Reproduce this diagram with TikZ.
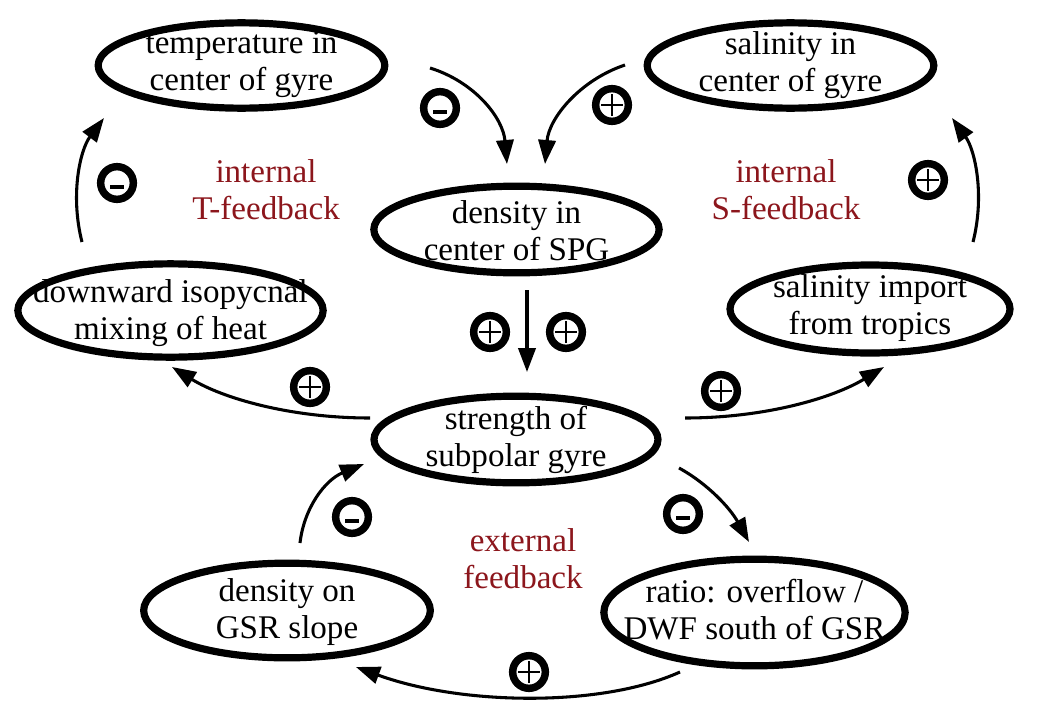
\documentclass[tikz,border=0pt]{standalone}
\usepackage{fontspec}
\setmainfont{Liberation Serif}
\usetikzlibrary{arrows.meta,shapes.geometric}
\definecolor{fbred}{RGB}{140,22,28}
\begin{document}
\begin{tikzpicture}[x=0.75pt,y=-0.75pt,
  oval/.style={draw,ellipse,line width=5.4pt,inner sep=0pt},
  txt/.style={align=center,inner sep=0pt,font=\fontsize{24.8}{27.75}\selectfont},
  fb/.style={txt,text=fbred},
  conn/.style={line width=2.3pt,-{Triangle[length=18pt,width=13pt]}},
  sgn/.style={draw,circle,line width=5.6pt,minimum size=24.5pt,inner sep=0pt},
  minusbar/.style={line width=3.4pt},
  plusbar/.style={line width=1.7pt}]
\useasboundingbox (0,0) rectangle (1041,703);

% ellipses
\node[oval,minimum width=215pt,minimum height=64pt] (temp) at (241.5,65.5) {};
\node[oval,minimum width=215pt,minimum height=64pt] (sal) at (790.5,65.5) {};
\node[oval,minimum width=214pt,minimum height=65pt] (dens) at (516.5,229.5) {};
\node[oval,minimum width=229pt,minimum height=70pt] (mix) at (170.5,310.5) {};
\node[oval,minimum width=210pt,minimum height=66pt] (imp) at (870,309) {};
\node[oval,minimum width=213pt,minimum height=65pt] (str) at (516,439.5) {};
\node[oval,minimum width=215pt,minimum height=71pt] (gsr) at (287,610.5) {};
\node[oval,minimum width=226pt,minimum height=80pt] (rat) at (754.5,612.5) {};

% texts
\node[txt] (tempt) at (241.5,65) {temperature in\\center of gyre};
\node[txt] (salt) at (790.5,65) {salinity in\\center of gyre};
\node[txt] (denst) at (516.5,231) {density in\\center of SPG};
\node[txt] (mixt) at (170.5,313) {downward isopycnal\\mixing of heat};
\node[txt] (impt) at (870,308) {salinity import\\from tropics};
\node[txt] (strt) at (516,440) {strength of\\subpolar gyre};
\node[txt] (gsrt) at (287,612) {density on\\GSR slope};
\node[txt] (ratt) at (754.5,610) {ratio: overflow /\\DWF south of GSR};

% feedback labels
\node[fb] (fbT) at (266,190) {internal\\T-feedback};
\node[fb] (fbS) at (786,190) {internal\\S-feedback};
\node[fb] (fbE) at (523,559) {external\\feedback};

% connector endpoints
\coordinate (a1s) at (430,68);   \coordinate (a1e) at (507,164);
\coordinate (a2s) at (625,65);   \coordinate (a2e) at (545,164);
\coordinate (a3s) at (527,290);  \coordinate (a3e) at (527,372);
\coordinate (a4s) at (370,418);  \coordinate (a4e) at (172,367);
\coordinate (a5s) at (685,418);  \coordinate (a5e) at (884,367);
\coordinate (a6s) at (82,242);   \coordinate (a6e) at (104,118);
\coordinate (a7s) at (973,242);  \coordinate (a7e) at (952,118);
\coordinate (a8s) at (300,543);  \coordinate (a8e) at (364,464);
\coordinate (a9s) at (679,468);  \coordinate (a9e) at (749,542);
\coordinate (a10s) at (680,672); \coordinate (a10e) at (356,667);

\draw[conn] (a1s) .. controls (475,82) and (503,118) .. (a1e);
\draw[conn] (a2s) .. controls (580,80) and (549,118) .. (a2e);
\draw[conn] (a3s) -- (a3e);
\draw[conn] (a4s) .. controls (290,418) and (222,398) .. (a4e);
\draw[conn] (a5s) .. controls (765,418) and (833,398) .. (a5e);
\draw[conn] (a6s) .. controls (70,195) and (80,150) .. (a6e);
\draw[conn] (a7s) .. controls (985,195) and (975,150) .. (a7e);
\draw[conn] (a8s) .. controls (304,508) and (325,480) .. (a8e);
\draw[conn] (a9s) .. controls (708,484) and (730,508) .. (a9e);
\draw[conn] (a10s) .. controls (600,708) and (460,705) .. (a10e);

% signs
\node[sgn] (s1) at (440,108) {};
\draw[minusbar] ([shift={(-7,4)}]s1.center) -- ++(14,0);
\node[sgn] (s2) at (612,105) {};
\draw[plusbar] ([shift={(-11,0)}]s2.center) -- ++(22,0);
\draw[plusbar] ([shift={(0,-11)}]s2.center) -- ++(0,22);
\node[sgn] (s3) at (117,183) {};
\draw[minusbar] ([shift={(-7,4)}]s3.center) -- ++(14,0);
\node[sgn] (s4) at (928,180) {};
\draw[plusbar] ([shift={(-11,0)}]s4.center) -- ++(22,0);
\draw[plusbar] ([shift={(0,-11)}]s4.center) -- ++(0,22);
\node[sgn] (s5) at (490,332) {};
\draw[plusbar] ([shift={(-11,0)}]s5.center) -- ++(22,0);
\draw[plusbar] ([shift={(0,-11)}]s5.center) -- ++(0,22);
\node[sgn] (s6) at (566,332) {};
\draw[plusbar] ([shift={(-11,0)}]s6.center) -- ++(22,0);
\draw[plusbar] ([shift={(0,-11)}]s6.center) -- ++(0,22);
\node[sgn] (s7) at (310,387) {};
\draw[plusbar] ([shift={(-11,0)}]s7.center) -- ++(22,0);
\draw[plusbar] ([shift={(0,-11)}]s7.center) -- ++(0,22);
\node[sgn] (s8) at (721,391) {};
\draw[plusbar] ([shift={(-11,0)}]s8.center) -- ++(22,0);
\draw[plusbar] ([shift={(0,-11)}]s8.center) -- ++(0,22);
\node[sgn] (s9) at (352,517) {};
\draw[minusbar] ([shift={(-7,4)}]s9.center) -- ++(14,0);
\node[sgn] (s10) at (683,514) {};
\draw[minusbar] ([shift={(-7,4)}]s10.center) -- ++(14,0);
\node[sgn] (s11) at (529,672) {};
\draw[plusbar] ([shift={(-11,0)}]s11.center) -- ++(22,0);
\draw[plusbar] ([shift={(0,-11)}]s11.center) -- ++(0,22);
\end{tikzpicture}
\end{document}
